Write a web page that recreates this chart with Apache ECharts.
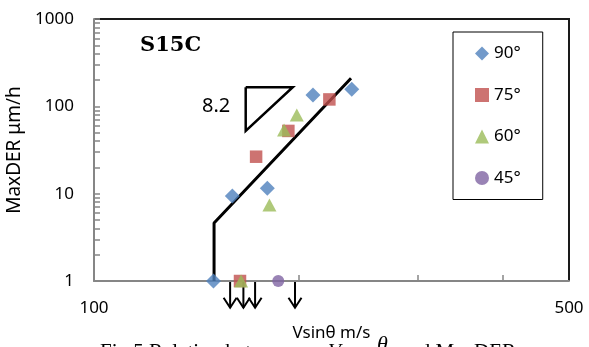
<!DOCTYPE html>
<html>
<head>
<meta charset="utf-8">
<script src="https://cdn.jsdelivr.net/npm/echarts@6/dist/echarts.min.js"></script>
<style>html,body{margin:0;padding:0;background:#fff}#c{width:589px;height:347px}</style>
</head>
<body>
<div id="c"></div>
<script>
// ---- data (x: Vsinθ m/s, y: MaxDER μm/h) ----
const seriesNames = ['90°', '75°', '60°', '45°'];
const d90 = [[149.9, 1], [159.8, 9.4], [179.9, 11.5], [210, 135], [239.5, 157]];
const d75 = [[164, 1], [173.2, 26.5], [193.2, 52.3], [222, 120]];
const d60 = [[164.6, 1], [181.2, 7.4], [190.4, 53.7], [198.8, 79.7]];
const d45 = [[186.7, 1]];
// fitted line (slope 8.2 in log-log)
const fitLine = [[150.2, 1], [150.2, 4.62], [238.9, 210]];
// slope triangle
const slopeTri = [[167.2, 165.5], [196.1, 165.5], [167.2, 52.3], [167.2, 165.5]];
// arrows: [xStart, xTurn, yTop, yBottom]
const arrows = [[149.9, 158.6, 1, 0.494], [164, 165.9, 1, 0.494], [164.6, 172.6, 1, 0.494], [186.7, 197.6, 1, 0.494]];
const xLabelValues = [100, 500];
const xTickValues = [200, 300, 400];
const yTickValues = [];
[1, 10, 100].forEach(function (b) { for (let k = 1; k <= 9; k++) yTickValues.push(b * k); });
yTickValues.push(1000);

const colors = ['#4F81BD', '#C0504D', '#9BBB59', '#8064A2'];
const FONT = '"Noto Sans", sans-serif';

const chart = echarts.init(document.getElementById('c'), null, {renderer: 'canvas'});
chart.setOption({
  animation: false,
  grid: {left: 94, right: 20, top: 19, bottom: 66, outerBoundsMode: 'none', containLabel: false},
  legend: {
    orient: 'vertical', left: 453, top: 32,
    padding: [13, 22, 13, 22], itemGap: 24.5, itemWidth: 14, itemHeight: 14, itemTextGap: 5,
    borderColor: '#000', borderWidth: 1,
    textStyle: {fontFamily: FONT, fontSize: 17, color: '#000'},
    data: seriesNames
  },
  xAxis: {
    type: 'log', logBase: 10, min: 100, max: 500, z: 3,
    name: 'Vsinθ m/s', nameLocation: 'middle', nameGap: 44,
    nameTextStyle: {fontFamily: FONT, fontSize: 17, color: '#000', backgroundColor: '#fff'},
    axisLine: {show: true, lineStyle: {color: '#868686', width: 2}},
    axisTick: {show: true, inside: true, length: 6, customValues: xTickValues, lineStyle: {color: '#868686', width: 1.5}},
    axisLabel: {customValues: xLabelValues, margin: 19, fontFamily: FONT, fontSize: 17, color: '#000', formatter: function (v) { return String(Math.round(v)); }},
    splitLine: {show: false}, minorTick: {show: false}
  },
  yAxis: {
    type: 'log', logBase: 10, min: 1, max: 1000, z: 3,
    name: 'MaxDER μm/h', nameLocation: 'middle', nameGap: 62, nameRotate: 90,
    nameTextStyle: {fontFamily: FONT, fontSize: 19, color: '#000'},
    axisLine: {show: true, lineStyle: {color: '#868686', width: 2}},
    axisTick: {show: true, inside: true, length: 6, customValues: yTickValues, lineStyle: {color: '#868686', width: 1.5}},
    axisLabel: {margin: 20, fontFamily: FONT, fontSize: 17, color: '#000', formatter: function (v) { return String(Math.round(v)); }},
    splitLine: {show: false}
  },
  graphic: [
    {type: 'text', left: 140, top: 35, style: {text: 'S15C', font: 'bold 21px "DejaVu Serif", serif', fill: '#000'}},
    {type: 'text', left: 202, top: 96, style: {text: '8.2', font: '20px "Noto Sans", sans-serif', fill: '#000'}},
    {type: 'text', left: 100, top: 342, z: -1, style: {text: 'Fig.5 Relation between', font: '21px "Liberation Serif", serif', fill: '#000'}},
    {type: 'text', left: 328, top: 342, z: -1, style: {text: 'V', font: 'italic 21px "Liberation Serif", serif', fill: '#000'}},
    {type: 'text', left: 377, top: 334, z: -1, style: {text: 'θ', font: 'italic 22px "Liberation Serif", serif', fill: '#000'}},
    {type: 'text', left: 400, top: 342, z: -1, style: {text: 'and MaxDER', font: '21px "Liberation Serif", serif', fill: '#000'}}
  ],
  series: [
    {name: 'frame', type: 'custom', z: 2, clip: false, silent: true, data: [[0]],
      renderItem: function (params, api) {
        const cs = params.coordSys;
        return {type: 'polyline', shape: {points: [[cs.x, cs.y], [cs.x + cs.width, cs.y], [cs.x + cs.width, cs.y + cs.height]]},
          style: {stroke: '#1a1a1a', lineWidth: 2, fill: null}};
      }
    },
    {name: 'fit', type: 'line', data: fitLine, symbol: 'none', z: 3, lineStyle: {color: '#000', width: 3}, silent: true},
    {name: 'tri', type: 'line', data: slopeTri, symbol: 'none', z: 3, lineStyle: {color: '#000', width: 2.5, join: 'miter'}, silent: true},
    {name: 'arrows', type: 'custom', z: 3, clip: false, data: arrows,
      renderItem: function (params, api) {
        const p0 = api.coord([api.value(0), api.value(2)]);
        const p1 = api.coord([api.value(1), api.value(2)]);
        const p2 = api.coord([api.value(1), api.value(3)]);
        const st = {stroke: '#000', lineWidth: 2, fill: null};
        return {type: 'group', children: [
          {type: 'polyline', shape: {points: [p0, p1, p2]}, style: st},
          {type: 'polyline', shape: {points: [[p2[0] - 6.5, p2[1] - 10], p2, [p2[0] + 6.5, p2[1] - 10]]}, style: st}
        ]};
      }
    },
    {name: '90°', type: 'scatter', data: d90, symbol: 'diamond', symbolSize: 15, z: 4, itemStyle: {color: colors[0]}},
    {name: '75°', type: 'scatter', data: d75, symbol: 'rect', symbolSize: 12.5, z: 4, itemStyle: {color: colors[1]}},
    {name: '60°', type: 'scatter', data: d60, symbol: 'triangle', symbolSize: [14, 13], z: 4, itemStyle: {color: colors[2]}},
    {name: '45°', type: 'scatter', data: d45, symbol: 'circle', symbolSize: 12, z: 4, itemStyle: {color: colors[3]}}
  ]
});
</script>
</body>
</html>
